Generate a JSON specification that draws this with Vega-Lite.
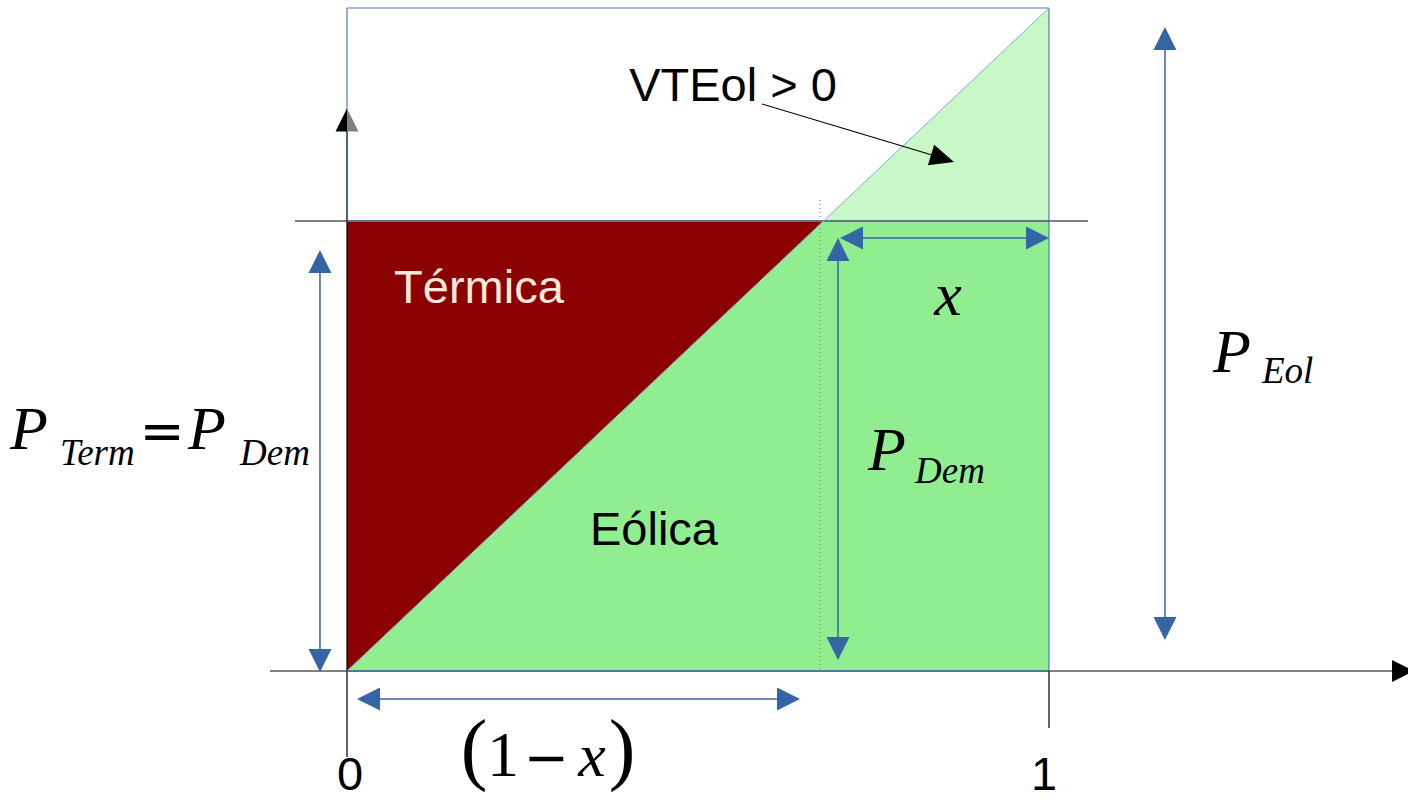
{
  "$schema": "https://vega.github.io/schema/vega-lite/v6.json",
  "width": 1408,
  "height": 800,
  "autosize": "none",
  "padding": 0,
  "background": "white",
  "config": {"view": {"stroke": null}},
  "encoding": {
    "x": {"field": "x", "type": "quantitative", "scale": {"domain": [-0.4943, 1.5114], "nice": false, "zero": false}, "axis": null},
    "y": {"field": "y", "type": "quantitative", "scale": {"domain": [-0.19457, 1.01207], "nice": false, "zero": false}, "axis": null}
  },
  "layer": [
    {
      "data": {"values": [{"x": 0.6787, "y": 0.6787, "y2": 0.6787}, {"x": 1, "y": 1, "y2": 0.6787}]},
      "mark": {"type": "area", "orient": "vertical", "color": "#c8f7c8", "opacity": 1},
      "encoding": {"y2": {"field": "y2"}}
    },
    {
      "data": {"values": [{"x": 0, "y": 0, "y2": 0}, {"x": 0.6787, "y": 0.6787, "y2": 0}, {"x": 1, "y": 0.6787, "y2": 0}]},
      "mark": {"type": "area", "orient": "vertical", "color": "#90ee90", "opacity": 1},
      "encoding": {"y2": {"field": "y2"}}
    },
    {
      "data": {"values": [{"x": 0, "y": 0.6787, "y2": 0}, {"x": 0.6787, "y": 0.6787, "y2": 0.6787}]},
      "mark": {"type": "area", "orient": "vertical", "color": "#8b0000", "opacity": 1},
      "encoding": {"y2": {"field": "y2"}}
    },
    {
      "data": {"values": [{"x": -0.0741, "y": 0.6787, "x2": 1.0556, "y2": 0.6787}, {"x": -0.1097, "y": 0, "x2": 1.5, "y2": 0}]},
      "mark": {"type": "rule", "color": "#808080", "strokeWidth": 2},
      "encoding": {"x2": {"field": "x2"}, "y2": {"field": "y2"}}
    },
    {
      "data": {"values": [{"x": 0, "y": 0.8145, "x2": 0, "y2": -0.1297}, {"x": 1, "y": 0, "x2": 1, "y2": -0.086}]},
      "mark": {"type": "rule", "color": "#000000", "strokeWidth": 1.2},
      "encoding": {"x2": {"field": "x2"}, "y2": {"field": "y2"}}
    },
    {
      "data": {"values": [
        {"x": 0, "y": 1, "x2": 1, "y2": 1},
        {"x": 0, "y": 1, "x2": 0, "y2": 0.6787},
        {"x": 1, "y": 1, "x2": 1, "y2": 0},
        {"x": 0, "y": 0.6787, "x2": 1, "y2": 0.6787},
        {"x": 0, "y": 0, "x2": 1, "y2": 0}
      ]},
      "mark": {"type": "rule", "color": "#3465a4", "strokeWidth": 1.2, "opacity": 0.85},
      "encoding": {"x2": {"field": "x2"}, "y2": {"field": "y2"}}
    },
    {
      "data": {"values": [{"x": 0, "y": 0, "x2": 1, "y2": 1}]},
      "mark": {"type": "rule", "color": "#8aa9d6", "strokeWidth": 1},
      "encoding": {"x2": {"field": "x2"}, "y2": {"field": "y2"}}
    },
    {
      "data": {"values": [{"x": 0.6738, "y": 0.7104, "x2": 0.6738, "y2": 0}]},
      "mark": {"type": "rule", "color": "#777777", "strokeWidth": 1, "strokeDash": [1, 3]},
      "encoding": {"x2": {"field": "x2"}, "y2": {"field": "y2"}}
    },
    {
      "data": {"values": [
        {"x": -0.0385, "y": 0.6275, "x2": -0.0385, "y2": 0.006},
        {"x": 0.6994, "y": 0.6425, "x2": 0.6994, "y2": 0.0241},
        {"x": 0.7094, "y": 0.6531, "x2": 0.9943, "y2": 0.6531},
        {"x": 0.0214, "y": -0.0422, "x2": 0.6382, "y2": -0.0422},
        {"x": 1.1652, "y": 0.9638, "x2": 1.1652, "y2": 0.0543}
      ]},
      "mark": {"type": "rule", "color": "#3465a4", "strokeWidth": 1.5},
      "encoding": {"x2": {"field": "x2"}, "y2": {"field": "y2"}}
    },
    {
      "data": {"values": [{"x": -0.0385, "y": 0.6176}, {"x": 0.6994, "y": 0.6357}, {"x": 1.1652, "y": 0.954}]},
      "mark": {"type": "point", "shape": "M0,-1L1,1L-1,1Z", "size": 529, "filled": true, "color": "#3465a4", "opacity": 1, "strokeWidth": 0}
    },
    {
      "data": {"values": [{"x": -0.0385, "y": 0.0158}, {"x": 0.6994, "y": 0.0339}, {"x": 1.1652, "y": 0.0641}]},
      "mark": {"type": "point", "shape": "M0,1L1,-1L-1,-1Z", "size": 529, "filled": true, "color": "#3465a4", "opacity": 1, "strokeWidth": 0}
    },
    {
      "data": {"values": [{"x": 0.7187, "y": 0.6531}, {"x": 0.0306, "y": -0.0422}]},
      "mark": {"type": "point", "shape": "M-1,0L1,-1L1,1Z", "size": 529, "filled": true, "color": "#3465a4", "opacity": 1, "strokeWidth": 0}
    },
    {
      "data": {"values": [{"x": 0.9836, "y": 0.6531}, {"x": 0.6289, "y": -0.0422}]},
      "mark": {"type": "point", "shape": "M1,0L-1,-1L-1,1Z", "size": 529, "filled": true, "color": "#3465a4", "opacity": 1, "strokeWidth": 0}
    },
    {
      "data": {"values": [{"x": 0.5912, "y": 0.8552, "x2": 0.8476, "y2": 0.7738}]},
      "mark": {"type": "rule", "color": "#000000", "strokeWidth": 1.2},
      "encoding": {"x2": {"field": "x2"}, "y2": {"field": "y2"}}
    },
    {
      "data": {"values": [{"x": 0.8483, "y": 0.773}]},
      "mark": {"type": "point", "shape": "M1,0L-1,-0.9L-1,0.9Z", "size": 576, "angle": 17, "filled": true, "color": "#000000", "opacity": 1, "strokeWidth": 0}
    },
    {
      "data": {"values": [{"x": 1.5043, "y": 0}]},
      "mark": {"type": "point", "shape": "M1,0L-1,-1L-1,1Z", "size": 484, "filled": true, "color": "#000000", "opacity": 1, "strokeWidth": 0}
    },
    {
      "data": {"values": [{"x": 0, "y": 0.8311}]},
      "mark": {"type": "point", "shape": "M0,-1L-1,1L0,1Z", "size": 529, "filled": true, "color": "#000000", "opacity": 1, "strokeWidth": 0}
    },
    {
      "data": {"values": [{"x": 0, "y": 0.8311}]},
      "mark": {"type": "point", "shape": "M0,-1L1,1L0,1Z", "size": 529, "filled": true, "color": "#808080", "opacity": 1, "strokeWidth": 0}
    },
    {
      "data": {"values": [
        {"x": 0.5499, "y": 0.8597, "label": "VTEol > 0"},
        {"x": 0.4373, "y": 0.19, "label": "Eólica"},
        {"x": 0.0043, "y": -0.1795, "label": "0"},
        {"x": 0.9929, "y": -0.1795, "label": "1"}
      ]},
      "mark": {"type": "text", "font": "Liberation Sans", "fontSize": 47, "color": "#000000", "align": "center", "baseline": "alphabetic"},
      "encoding": {"text": {"field": "label"}}
    },
    {
      "data": {"values": [{"x": 0.188, "y": 0.555, "label": "Térmica"}]},
      "mark": {"type": "text", "font": "Liberation Sans", "fontSize": 47, "color": "#fdeada", "align": "center", "baseline": "alphabetic"},
      "encoding": {"text": {"field": "label"}}
    },
    {
      "data": {"values": [
        {"x": 1.2336, "y": 0.451, "label": "P"},
        {"x": -0.48, "y": 0.3348, "label": "P"},
        {"x": -0.2265, "y": 0.3348, "label": "P"},
        {"x": 0.7422, "y": 0.3032, "label": "P"}
      ]},
      "mark": {"type": "text", "font": "Liberation Serif", "fontStyle": "italic", "fontSize": 62, "color": "#000000", "align": "left", "baseline": "alphabetic"},
      "encoding": {"text": {"field": "label"}}
    },
    {
      "data": {"values": [
        {"x": 0.8561, "y": 0.537, "label": "x"},
        {"x": 0.349, "y": -0.1584, "label": "x"}
      ]},
      "mark": {"type": "text", "font": "Liberation Serif", "fontStyle": "italic", "fontSize": 62, "color": "#000000", "align": "center", "baseline": "alphabetic"},
      "encoding": {"text": {"field": "label"}}
    },
    {
      "data": {"values": [
        {"x": 0.2222, "y": -0.1584, "label": "1"}
      ]},
      "mark": {"type": "text", "font": "Liberation Serif", "fontSize": 64, "color": "#000000", "align": "center", "baseline": "alphabetic"},
      "encoding": {"text": {"field": "label"}}
    },
    {
      "data": {"values": [
        {"x": 0.2835, "y": -0.1584, "label": "−"},
        {"x": -0.2635, "y": 0.3348, "label": "="}
      ]},
      "mark": {"type": "text", "font": "DejaVu Sans", "fontSize": 54, "color": "#000000", "align": "center", "baseline": "alphabetic"},
      "encoding": {"text": {"field": "label"}}
    },
    {
      "data": {"values": [
        {"x": 0.1809, "y": -0.1569, "label": "("},
        {"x": 0.3917, "y": -0.1569, "label": ")"}
      ]},
      "mark": {"type": "text", "font": "Liberation Serif", "fontSize": 80, "color": "#000000", "align": "center", "baseline": "alphabetic"},
      "encoding": {"text": {"field": "label"}}
    },
    {
      "data": {"values": [
        {"x": -0.4088, "y": 0.3107, "label": "Term"},
        {"x": -0.1524, "y": 0.3107, "label": "Dem"},
        {"x": 0.8091, "y": 0.2836, "label": "Dem"},
        {"x": 1.3034, "y": 0.4344, "label": "Eol"}
      ]},
      "mark": {"type": "text", "font": "Liberation Serif", "fontStyle": "italic", "fontSize": 37, "color": "#000000", "align": "left", "baseline": "alphabetic"},
      "encoding": {"text": {"field": "label"}}
    }
  ]
}
